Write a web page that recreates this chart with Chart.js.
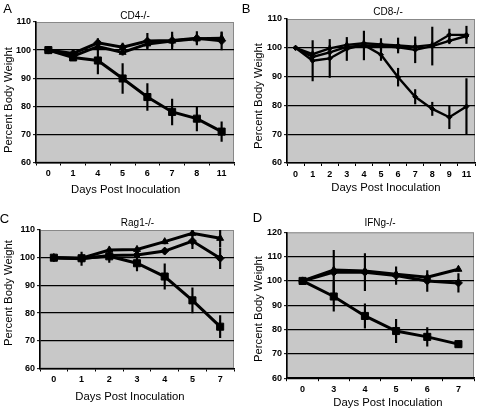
<!DOCTYPE html>
<html><head><meta charset="utf-8">
<script src="https://cdn.jsdelivr.net/npm/chart.js@4.4.1/dist/chart.umd.min.js"></script>
<style>
html,body{margin:0;padding:0;background:#fff;}
#wrap{position:relative;width:480px;height:412px;overflow:hidden;background:#fff;}
canvas{position:absolute;}
.t{position:absolute;white-space:nowrap;transform:translate(-50%,-50%);color:#000;line-height:1;}
.letter{font:13px 'Liberation Sans',Arial,sans-serif;}
.ptitle{font:10px 'Liberation Sans Narrow','Liberation Sans',Arial,sans-serif;}
.axt{font:11.3px 'Liberation Sans',Arial,sans-serif;}
.rot{transform:translate(-50%,-50%) rotate(-90deg);}
</style></head>
<body>
<div id="wrap">
  <canvas id="cA" width="240" height="206" style="left:0;top:0"></canvas>
  <canvas id="cB" width="240" height="206" style="left:240px;top:0"></canvas>
  <canvas id="cC" width="240" height="206" style="left:0;top:206px"></canvas>
  <canvas id="cD" width="240" height="206" style="left:240px;top:206px"></canvas>

  <div class="t letter" style="left:7.5px;top:8.3px">A</div>
  <div class="t letter" style="left:246px;top:7.5px">B</div>
  <div class="t letter" style="left:4.5px;top:217.7px">C</div>
  <div class="t letter" style="left:257.5px;top:217px">D</div>

  <div class="t ptitle" style="left:135px;top:14.8px">CD4-/-</div>
  <div class="t ptitle" style="left:388px;top:10.8px">CD8-/-</div>
  <div class="t ptitle" style="left:137.5px;top:221.8px">Rag1-/-</div>
  <div class="t ptitle" style="left:380px;top:221.8px">IFNg-/-</div>

  <div class="t axt" style="left:125.7px;top:189px">Days Post Inoculation</div>
  <div class="t axt rot" style="left:8.3px;top:100px">Percent Body Weight</div>
  <div class="t axt" style="left:386px;top:187px">Days Post Inoculation</div>
  <div class="t axt rot" style="left:258px;top:96px">Percent Body Weight</div>
  <div class="t axt" style="left:130px;top:396px">Days Post Inoculation</div>
  <div class="t axt rot" style="left:8px;top:293px">Percent Body Weight</div>
  <div class="t axt" style="left:388px;top:402px">Days Post Inoculation</div>
  <div class="t axt rot" style="left:258px;top:309px">Percent Body Weight</div>
</div>
<script>
// ---------- Panel A: CD4-/- ----------
const daysA = ['0','1','4','5','6','7','8','11'];
const A_square    = [100, 97.4, 96.3, 89.9, 83.3, 78.0, 75.6, 71.0];
const A_squareErr = [0.5, 1.0, 4.8, 5.3, 4.8, 4.6, 4.4, 3.5];
const A_diamond    = [100, 98.8, 102.6, 101.0, 103.2, 103.4, 104.2, 103.3];
const A_diamondErr = [0.5, 1.2, 1.5, 1.5, 2.8, 3.0, 2.4, 3.2];
const A_triangle    = [100, 97.8, 101.3, 99.2, 102.2, 103.2, 104.0, 104.2];
const A_triangleErr = [0.5, 1.0, 1.2, 1.0, 1.5, 2.0, 1.5, 2.0];

// ---------- Panel B: CD8-/- ----------
const daysB = ['0','1','2','3','4','5','6','7','8','9','11'];
const B_s1    = [100, 97.8, 99.8, 101.0, 101.6, 101.2, 100.8, 100.4, 101.0, 104.5, 104.5];
const B_s1Err = [0.5, 1.0, 1.0, 1.0, 1.0, 2.0, 2.6, 1.0, 1.0, 2.0, 3.0];
const B_s2    = [100, 96.8, 98.4, 100.3, 100.8, 100.6, 100.2, 99.3, 100.6, 102.4, 104.1];
const B_s2Err = [0.5, 1.0, 1.0, 1.0, 5.0, 1.0, 1.0, 4.5, 6.6, 1.0, 1.0];
const B_s3    = [100, 95.5, 96.3, 99.6, 101.0, 97.6, 89.8, 83.0, 78.8, 75.9, 79.6];
const B_s3Err = [0.5, 7.0, 6.6, 4.0, 1.0, 2.0, 3.1, 2.5, 2.3, 4.0, 9.7];

// ---------- Panel C: Rag1-/- ----------
const daysC = ['0','1','2','3','4','5','7'];
const C_square    = [100, 99.8, 100.5, 98.0, 93.2, 84.6, 75.1];
const C_squareErr = [0.5, 1.0, 1.0, 2.8, 4.6, 4.5, 4.0];
const C_diamond    = [100, 99.6, 100.8, 101.0, 102.4, 106.0, 99.8];
const C_diamondErr = [0.5, 2.4, 2.5, 1.0, 1.0, 2.7, 3.8];
const C_triangle    = [100, 99.8, 102.8, 103.0, 105.8, 108.8, 107.0];
const C_triangleErr = [0.5, 0.5, 0.5, 0.5, 0.8, 1.0, 3.0];

// ---------- Panel D: IFNg-/- ----------
const daysD = ['0','3','4','5','6','7'];
const D_square    = [100, 93.6, 85.6, 79.4, 77.0, 74.0];
const D_squareErr = [0.5, 6.0, 5.0, 4.8, 3.8, 1.4];
const D_diamond    = [100, 103.6, 103.6, 102.2, 100.0, 99.2];
const D_diamondErr = [0.5, 9.0, 7.6, 3.6, 4.3, 3.8];
const D_triangle    = [100, 104.5, 104.1, 102.8, 101.5, 104.8];
const D_triangleErr = [0.5, 0.8, 0.8, 0.8, 0.8, 0.8];

const tickFont = {family: "'Liberation Sans Narrow','Liberation Sans',Arial,sans-serif", size: 9, weight: 'bold'};

const plotBg = {
  id: 'plotBg',
  beforeDraw(chart) {
    const {ctx, chartArea: a} = chart;
    ctx.save();
    ctx.fillStyle = '#c8c8c8';
    ctx.fillRect(a.left, a.top, a.right - a.left, a.bottom - a.top);
    ctx.strokeStyle = '#888888';
    ctx.lineWidth = 1;
    ctx.strokeRect(a.left + 0.5, a.top + 0.5, a.right - a.left - 1, a.bottom - a.top - 1);
    ctx.restore();
  }
};

function build(id, cats, series, yMin, yMax, geo) {
  const datasets = [];
  series.forEach(s => {
    datasets.push({
      type: 'line', data: s.mean, borderColor: '#000', backgroundColor: '#000',
      borderWidth: geo.lw, pointStyle: s.marker, pointRadius: s.r,
      pointBackgroundColor: '#000', pointBorderColor: '#000', pointBorderWidth: 1,
      tension: 0, order: 1
    });
    datasets.push({
      type: 'bar', data: s.mean.map((m, i) => [m - s.err[i], m + s.err[i]]),
      backgroundColor: '#000', borderWidth: 0, barThickness: 1.5, grouped: false, order: 2
    });
  });
  return new Chart(document.getElementById(id), {
    type: 'bar',
    data: {labels: cats, datasets},
    plugins: [plotBg],
    options: {
      responsive: false, animation: false, events: [],
      layout: {padding: {top: geo.top, right: geo.right, left: 0, bottom: 0}},
      plugins: {legend: {display: false}, title: {display: false}, tooltip: {enabled: false}},
      scales: {
        x: {
          type: 'category', offset: true,
          grid: {offset: true, drawOnChartArea: false, drawTicks: true, tickLength: 3, color: '#000', lineWidth: 1},
          border: {display: true, color: '#000', width: 1.5},
          ticks: {font: tickFont, color: '#000', padding: 3, maxRotation: 0, autoSkip: false},
          afterFit(s) { s.height = geo.xH; }
        },
        y: {
          min: yMin, max: yMax,
          ticks: {stepSize: 10, font: tickFont, color: '#000', padding: 2},
          grid: {
            color: c => (c.tick && c.tick.value === yMax) ? 'rgba(0,0,0,0)' : '#000',
            lineWidth: 1.3, tickColor: '#000', tickLength: 3, tickWidth: 1
          },
          border: {display: true, color: '#000', width: 1.5},
          afterFit(s) { s.width = geo.yW; }
        }
      }
    }
  });
}

build('cA', daysA, [
  {mean: A_diamond, err: A_diamondErr, marker: 'rectRot', r: 4},
  {mean: A_triangle, err: A_triangleErr, marker: 'triangle', r: 4},
  {mean: A_square, err: A_squareErr, marker: 'rect', r: 5}
], 60, 110, {top: 22, right: 3, yW: 36, xH: 43.5, lw: 3});

build('cB', daysB, [
  {mean: B_s1, err: B_s1Err, marker: 'rectRot', r: 2.5},
  {mean: B_s2, err: B_s2Err, marker: 'rectRot', r: 2.5},
  {mean: B_s3, err: B_s3Err, marker: 'rectRot', r: 2.5}
], 60, 110, {top: 19, right: 5, yW: 47, xH: 43, lw: 2.4});

build('cC', daysC, [
  {mean: C_triangle, err: C_triangleErr, marker: 'triangle', r: 4},
  {mean: C_diamond, err: C_diamondErr, marker: 'rectRot', r: 4},
  {mean: C_square, err: C_squareErr, marker: 'rect', r: 5}
], 60, 110, {top: 24, right: 4, yW: 40, xH: 43.5, lw: 3});

build('cD', daysD, [
  {mean: D_triangle, err: D_triangleErr, marker: 'triangle', r: 4},
  {mean: D_diamond, err: D_diamondErr, marker: 'rectRot', r: 4},
  {mean: D_square, err: D_squareErr, marker: 'rect', r: 5}
], 60, 120, {top: 26.3, right: 3.5, yW: 47, xH: 33.8, lw: 3});
</script>
</body></html>
